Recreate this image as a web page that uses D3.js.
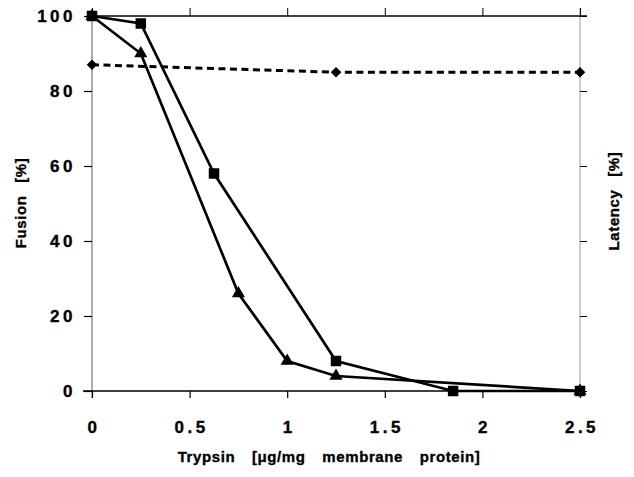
<!DOCTYPE html>
<html>
<head>
<meta charset="utf-8">
<script src="https://cdn.jsdelivr.net/npm/d3@7"></script>
<style>
    body { margin: 0; background: #ffffff; }
    text { font-family: "Liberation Sans", Arial, sans-serif; font-weight: bold; fill: #000000; stroke: #000000; stroke-width: 0.35px; }
</style>
</head>
<body>
<div id="chart"></div>
<script>
// Trypsin doses (x) and the three measured series.
var squareX = [0, 0.25, 0.625, 1.25, 1.85, 2.5],
    squareY = [100, 98, 58, 8, 0, 0];
var triangleX = [0, 0.25, 0.75, 1, 1.25, 2.5],
    triangleY = [100, 90, 26, 8, 4, 0];
var diamondX = [0, 1.25, 2.5],
    diamondY = [87, 85, 85];

var xTicks = [0, 0.5, 1, 1.5, 2, 2.5],
    xTickLabels = ['0', '0.5', '1', '1.5', '2', '2.5'],
    yTicks = [0, 20, 40, 60, 80, 100],
    yTickLabels = ['0', '20', '40', '60', '80', '100'];

var width = 634,
    height = 477,
    plotLeft = 92,
    plotRight = 580,
    plotTop = 16,
    plotBottom = 391;

var svg = d3.select('#chart').append('svg')
    .attr('width', width)
    .attr('height', height);

var x = d3.scaleLinear().domain([0, 2.5]).range([plotLeft, plotRight]),
    y = d3.scaleLinear().domain([0, 100]).range([plotBottom, plotTop]);

function zip(xs, ys) {
    return xs.map(function (d, i) { return [d, ys[i]]; });
}

// Frame: grey left/right, black top/bottom.
svg.append('line')
    .attr('x1', plotLeft).attr('x2', plotLeft)
    .attr('y1', plotTop - 3).attr('y2', plotBottom + 7)
    .style('stroke', '#777').style('stroke-width', 1.2);
svg.append('line')
    .attr('x1', plotRight).attr('x2', plotRight)
    .attr('y1', plotTop - 8).attr('y2', plotBottom + 7)
    .style('stroke', '#aaa').style('stroke-width', 1.2);

// Bottom axis, ticks downwards.
var xAxis = svg.append('g')
    .attr('transform', 'translate(0,' + plotBottom + ')')
    .call(d3.axisBottom(x).tickValues(xTicks).tickSize(7).tickFormat(''));
xAxis.select('.domain').attr('d', 'M' + (plotLeft - 9) + ',0H' + (plotRight + 5))
    .style('stroke-width', 1.6);
xAxis.selectAll('.tick line').style('stroke-width', 1.2);

// Top axis, ticks upwards.
var topAxis = svg.append('g')
    .attr('transform', 'translate(0,' + plotTop + ')')
    .call(d3.axisTop(x).tickValues(xTicks).tickSize(8).tickFormat(''));
topAxis.select('.domain').attr('d', 'M' + plotLeft + ',0H' + (plotRight + 7))
    .style('stroke-width', 1.4);
topAxis.selectAll('.tick line').style('stroke-width', 1);

// Left ticks outwards.
var yAxis = svg.append('g')
    .attr('transform', 'translate(' + plotLeft + ',0)')
    .call(d3.axisLeft(y).tickValues(yTicks).tickSize(8).tickFormat(''));
yAxis.select('.domain').remove();
yAxis.selectAll('.tick line').style('stroke-width', 1.2);

// Right (latency) ticks outwards, no labels.
var y2Axis = svg.append('g')
    .attr('transform', 'translate(' + plotRight + ',0)')
    .call(d3.axisRight(y).tickValues(yTicks).tickSize(7).tickFormat(''));
y2Axis.select('.domain').remove();
y2Axis.selectAll('.tick line').style('stroke-width', 1);

// Tick labels, wide letter spacing like the original.
svg.selectAll('.ylab')
    .data(yTicks)
    .enter().append('text')
    .attr('class', 'ylab')
    .attr('x', 76)
    .attr('y', function (d) { return y(d) + 6; })
    .attr('text-anchor', 'end')
    .attr('font-size', '17px')
    .attr('letter-spacing', '3.5px')
    .text(function (d, i) { return yTickLabels[i]; });

svg.selectAll('.xlab')
    .data(xTicks)
    .enter().append('text')
    .attr('class', 'xlab')
    .attr('x', function (d) { return x(d) + 2; })
    .attr('y', 433)
    .attr('text-anchor', 'middle')
    .attr('font-size', '17px')
    .attr('letter-spacing', '3.5px')
    .text(function (d, i) { return xTickLabels[i]; });

// Axis titles.
svg.append('text')
    .attr('x', 329)
    .attr('y', 462)
    .attr('text-anchor', 'middle')
    .attr('font-size', '15px')
    .attr('letter-spacing', '0.6px')
    .attr('word-spacing', '12px')
    .text('Trypsin [\u03bcg/mg membrane protein]');

svg.append('text')
    .attr('transform', 'translate(26,203) rotate(-90)')
    .attr('text-anchor', 'middle')
    .attr('font-size', '15px')
    .attr('letter-spacing', '0.6px')
    .attr('word-spacing', '8px')
    .text('Fusion [%]');

svg.append('text')
    .attr('transform', 'translate(619,201) rotate(-90)')
    .attr('text-anchor', 'middle')
    .attr('font-size', '15px')
    .attr('letter-spacing', '0.6px')
    .attr('word-spacing', '8px')
    .text('Latency [%]');

// Series lines.
var line = d3.line()
    .x(function (d) { return x(d[0]); })
    .y(function (d) { return y(d[1]); });

svg.append('path')
    .datum(zip(diamondX, diamondY))
    .attr('d', line)
    .style('fill', 'none')
    .style('stroke', '#000')
    .style('stroke-width', 3)
    .style('stroke-dasharray', '7,4.5');

svg.append('path')
    .datum(zip(squareX, squareY))
    .attr('d', line)
    .style('fill', 'none')
    .style('stroke', '#000')
    .style('stroke-width', 2.7);

svg.append('path')
    .datum(zip(triangleX, triangleY))
    .attr('d', line)
    .style('fill', 'none')
    .style('stroke', '#000')
    .style('stroke-width', 2.7);

// Markers.
function markers(xs, ys, type, size, rot) {
    svg.append('g').selectAll('path')
        .data(zip(xs, ys))
        .enter().append('path')
        .attr('transform', function (d) {
            return 'translate(' + x(d[0]) + ',' + y(d[1]) + ') rotate(' + (rot || 0) + ')';
        })
        .attr('d', d3.symbol().type(type).size(size))
        .style('fill', '#000');
}

markers(squareX, squareY, d3.symbolSquare, 110);
markers(triangleX, triangleY, d3.symbolTriangle, 75);
// Diamond = square turned 45 degrees.
markers(diamondX, diamondY, d3.symbolSquare, 55, 45);
</script>
</body>
</html>
